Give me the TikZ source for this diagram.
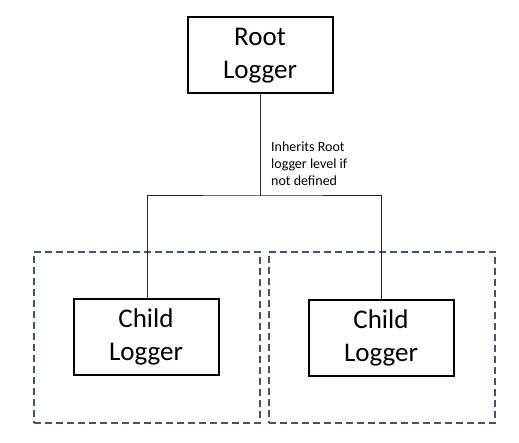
\documentclass[tikz,border=0pt]{standalone}
\usepackage{fontspec}
\setmainfont{Carlito}
\definecolor{dashblue}{HTML}{44546A}
\begin{document}
\begin{tikzpicture}[x=1pt,y=1pt,
  logbox/.style={draw=black,line width=2pt,fill=white,minimum width=145pt,minimum height=76pt,inner sep=0pt,align=center,font=\fontsize{27}{33}\selectfont},
  groupbox/.style={draw=dashblue,line width=2pt,dash pattern=on 7pt off 4pt,minimum width=226pt,minimum height=171pt,inner sep=0pt},
  link/.style={draw=black!85,line width=1pt}]
\fill[white] (0,0) rectangle (519,442);
\useasboundingbox (0,0) rectangle (519,442);
\node[groupbox] (lg) at (147,104.5) {};
\node[groupbox] (rg) at (381.5,104.5) {};
\node[logbox] (root) at (260,386.5) {Root\\Logger};
\node[logbox] (lc) at (146,105.5) {Child\\Logger};
\node[logbox] (rc) at (381,104.5) {Child\\Logger};
\coordinate (j) at (260,246);
\draw[link] (root.south) -- (j);
\draw[link] (lc.north -| 147,0) |- (j) -| (rc.north);
\node[anchor=base west,align=left,inner sep=0pt,font=\fontsize{14}{17}\selectfont] (lbl) at (271,256) {Inherits Root\\logger level if\\not defined};
\end{tikzpicture}
\end{document}
